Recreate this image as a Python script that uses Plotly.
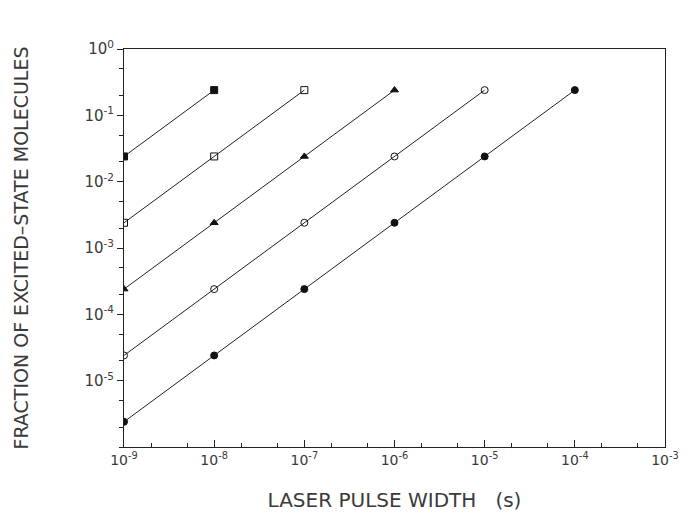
import plotly.graph_objects as go

# Data (log-log)
pulse_s1 = [1e-9, 1e-8]
frac_s1 = [2.4e-2, 2.4e-1]
pulse_s2 = [1e-9, 1e-8, 1e-7]
frac_s2 = [2.4e-3, 2.4e-2, 2.4e-1]
pulse_s3 = [1e-9, 1e-8, 1e-7, 1e-6]
frac_s3 = [2.4e-4, 2.4e-3, 2.4e-2, 2.4e-1]
pulse_s4 = [1e-9, 1e-8, 1e-7, 1e-6, 1e-5]
frac_s4 = [2.4e-5, 2.4e-4, 2.4e-3, 2.4e-2, 2.4e-1]
pulse_s5 = [1e-9, 1e-8, 1e-7, 1e-6, 1e-5, 1e-4]
frac_s5 = [2.4e-6, 2.4e-5, 2.4e-4, 2.4e-3, 2.4e-2, 2.4e-1]

x_tickvals = [1e-9, 1e-8, 1e-7, 1e-6, 1e-5, 1e-4, 1e-3]
x_ticktext = ["10<sup>-9</sup>", "10<sup>-8</sup>", "10<sup>-7</sup>", "10<sup>-6</sup>",
              "10<sup>-5</sup>", "10<sup>-4</sup>", "10<sup>-3</sup>"]
y_tickvals = [1e0, 1e-1, 1e-2, 1e-3, 1e-4, 1e-5]
y_ticktext = ["10<sup>0</sup>", "10<sup>-1</sup>", "10<sup>-2</sup>", "10<sup>-3</sup>",
              "10<sup>-4</sup>", "10<sup>-5</sup>"]

series = [
    (pulse_s1, frac_s1, "square", "#111"),
    (pulse_s2, frac_s2, "square-open", "#111"),
    (pulse_s3, frac_s3, "triangle-up", "#111"),
    (pulse_s4, frac_s4, "circle-open", "#111"),
    (pulse_s5, frac_s5, "circle", "#111"),
]

fig = go.Figure()
for xs, ys, sym, col in series:
    fig.add_trace(go.Scatter(
        x=xs, y=ys, mode="lines+markers",
        line=dict(color="#222", width=1),
        marker=dict(symbol=sym, size=7, color=col, line=dict(color="#111", width=1)),
        showlegend=False,
    ))

font_col = "#3a3a3a"
fig.update_layout(
    width=692, height=524,
    margin=dict(l=124, r=27, t=49, b=77),
    paper_bgcolor="white", plot_bgcolor="white",
    font=dict(family="DejaVu Sans", color=font_col, size=12),
    xaxis=dict(
        type="log", range=[-9, -3],
        tickvals=x_tickvals, ticktext=x_ticktext,
        ticks="inside", ticklen=7, tickcolor="#222", tickwidth=1,
        minor=dict(ticks="inside", ticklen=4, tickcolor="#222", showgrid=False),
        showline=True, linecolor="#222", linewidth=1, mirror=True,
        showgrid=False, zeroline=False,
        tickfont=dict(size=14, color=font_col),
        title=dict(text="LASER PULSE WIDTH&nbsp;&nbsp;&nbsp;(s)", standoff=26,
                   font=dict(size=20, color=font_col)),
    ),
    yaxis=dict(
        type="log", range=[-6, 0],
        tickvals=y_tickvals, ticktext=y_ticktext,
        ticks="outside", ticklen=6, tickcolor="#222", tickwidth=1,
        minor=dict(ticks="outside", ticklen=4, tickcolor="#222", showgrid=False),
        showline=True, linecolor="#222", linewidth=1, mirror=True,
        showgrid=False, zeroline=False,
        tickfont=dict(size=15, color=font_col),
        title=dict(text="FRACTION OF EXCITED–STATE MOLECULES", standoff=50,
                   font=dict(size=19, color=font_col)),
    ),
)

fig.write_html("out.html")
